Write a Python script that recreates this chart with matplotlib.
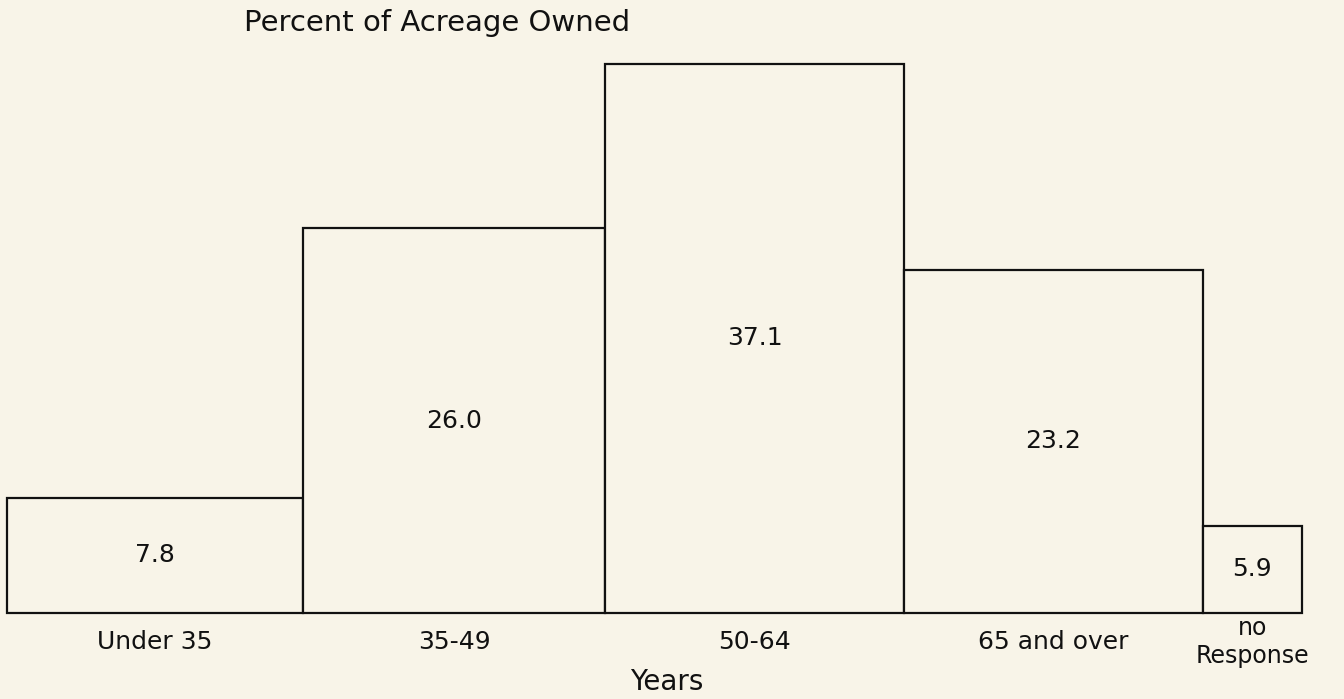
import numpy as np
import matplotlib
matplotlib.use("Agg")
import matplotlib.pyplot as plt

categories = ["Under 35", "35-49", "50-64", "65 and over", "no\nResponse"]
percent = [7.8, 26.0, 37.1, 23.2, 5.9]
value_labels = ["7.8", "26.0", "37.1", "23.2", "5.9"]

bg = "#f8f4e8"
W, H = 1344, 699
px_per_unit = 14.8     # vertical scale, pixels per percent
px_per_bar = 299       # horizontal width of one age group

# bar edges (in age-group widths)
edges = np.array([0, 0.99, 2.0, 3.0, 4.0, 4.33])
lefts = edges[:-1]
widths = np.diff(edges)

fig = plt.figure(figsize=(W / 100, H / 100), dpi=100, facecolor=bg)

# axes: left edge at 7px, baseline at 613px
ax_left, ax_right = 7, 1303
base_y = 613
top_y = base_y - 40 * px_per_unit
ax = fig.add_axes([ax_left / W, (H - base_y) / H,
                   (ax_right - ax_left) / W, (base_y - top_y) / H])
ax.set_facecolor(bg)
ax.set_xlim(0, (ax_right - ax_left) / px_per_bar)
ax.set_ylim(0, 40)
ax.axis("off")

ax.bar(lefts, percent, width=widths, align="edge", color=bg,
       edgecolor="#111111", linewidth=1.6, clip_on=False)

font = "DejaVu Sans"
for i in range(len(percent)):
    cx = lefts[i] + widths[i] / 2
    ax.text(cx, percent[i] / 2, value_labels[i], ha="center", va="center",
            fontsize=18, family=font, color="#111111")
    lines = categories[i].split("\n")
    if len(lines) == 1:
        ax.text(cx, -36 / px_per_unit, lines[0], ha="center", va="baseline",
                fontsize=18, family=font, color="#111111")
    else:
        ax.text(cx, -22 / px_per_unit, lines[0], ha="center", va="baseline",
                fontsize=17, family=font, color="#111111")
        ax.text(cx, -50 / px_per_unit, lines[1], ha="center", va="baseline",
                fontsize=17, family=font, color="#111111")

fig.text(437 / W, 1 - 31 / H, "Percent of Acreage Owned", ha="center",
         va="baseline", fontsize=21, family=font, color="#111111")
fig.text(667 / W, 1 - 690 / H, "Years", ha="center", va="baseline",
         fontsize=20, family=font, color="#111111")

fig.savefig("out.png", dpi=100, facecolor=bg)
